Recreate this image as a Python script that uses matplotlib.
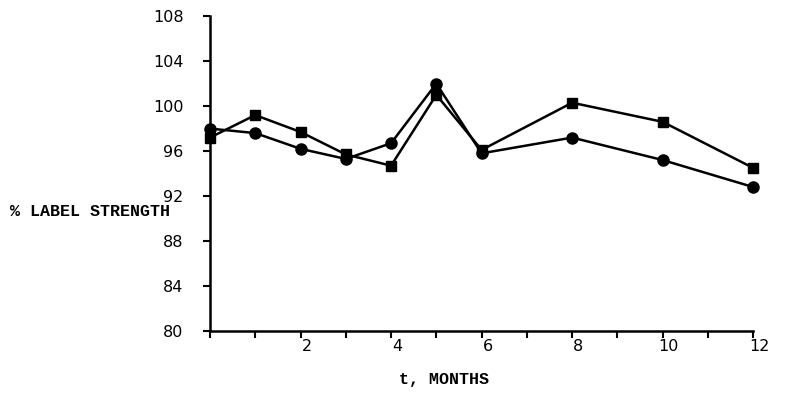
import matplotlib.pyplot as plt
import matplotlib.transforms as mtransforms

# meses y resistencia de etiqueta (%)
t_circle = [0, 1, 2, 3, 4, 5, 6, 8, 10, 12]
circle = [98.0, 97.6, 96.2, 95.3, 96.7, 102.0, 95.8, 97.2, 95.2, 92.8]

t_square = [0, 1, 2, 3, 4, 5, 6, 8, 10, 12]
square = [97.2, 99.2, 97.7, 95.7, 94.7, 101.0, 96.1, 100.3, 98.6, 94.5]

y_ticks = [80, 84, 88, 92, 96, 100, 104, 108]
x_labels = ['', '', '2', '', '4', '', '6', '', '8', '', '10', '', '12']

fig = plt.figure(figsize=(7.85, 3.94), dpi=100)
ax = fig.add_axes([0.2675, 0.16, 0.692, 0.799])

ax.plot(t_circle, circle, color='black', lw=1.8, marker='o', ms=8, clip_on=False)
ax.plot(t_square, square, color='black', lw=1.8, marker='s', ms=7, clip_on=False)

ax.set_xlim(0, 12)
ax.set_ylim(80, 108)
ax.set_yticks(y_ticks)
ax.set_xticks(range(13))
ax.set_xticklabels(x_labels)

for s in ['top', 'right']:
    ax.spines[s].set_visible(False)
for s in ['left', 'bottom']:
    ax.spines[s].set_linewidth(1.8)

ax.tick_params(axis='both', direction='out', length=5, width=1.5, labelsize=11.5)
ax.tick_params(axis='y', pad=14)
ax.tick_params(axis='x', pad=1)

# etiquetas del eje x un poco a la derecha de la marca
shift = mtransforms.ScaledTranslation(6 / 100, 0, fig.dpi_scale_trans)
for lbl in ax.get_xticklabels():
    lbl.set_transform(lbl.get_transform() + shift)

fig.text(0.217, 0.462, '% LABEL STRENGTH', ha='right', va='center',
         family='Liberation Mono', weight='bold', fontsize=12)
fig.text(0.566, 0.036, 't, MONTHS', ha='center', va='center',
         family='Liberation Mono', weight='bold', fontsize=12)

fig.savefig('out.png', dpi=100)
